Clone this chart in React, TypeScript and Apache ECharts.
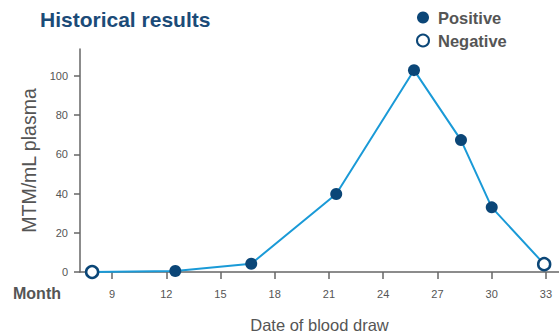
import React, { useEffect, useRef } from "react";
import * as echarts from "echarts";

const months = [7.9, 12.5, 16.7, 21.4, 25.7, 28.3, 30.0, 32.9];
const values = [0, 0.5, 4.2, 39.8, 103, 67.3, 33, 4];
const status = ["Negative", "Positive", "Positive", "Positive", "Positive", "Positive", "Positive", "Negative"];
const xTicks = [9, 12, 15, 18, 21, 24, 27, 30, 33];

const NAVY = "#0b4677";
const LINE = "#1a9ad7";
const GRAY = "#555555";
const AXIS = "#666666";
const FONT = "'Liberation Sans', Arial, Helvetica, sans-serif";

export default function App() {
  const ref = useRef<HTMLDivElement>(null);
  useEffect(() => {
    if (!ref.current) return;
    const chart = echarts.init(ref.current, undefined, { renderer: "svg" });
    const all = months.map((m, i) => [m, values[i]]);
    const pos = months.map((m, i) => (status[i] === "Positive" ? [m, values[i]] : null)).filter(Boolean);
    const neg = months.map((m, i) => (status[i] === "Negative" ? [m, values[i]] : null)).filter(Boolean);
    chart.setOption({
      animation: false,
      textStyle: { fontFamily: FONT },
      title: {
        text: "Historical results",
        left: 35,
        top: 4,
        textStyle: { fontSize: 21, fontWeight: "bold", color: "#1b4b78", fontFamily: FONT },
      },
      legend: {
        orient: "vertical",
        left: 411,
        top: 4,
        itemWidth: 12,
        itemHeight: 12,
        itemGap: 6,
        data: [
          { name: "Positive", icon: "circle" },
          { name: "Negative", icon: "circle" },
        ],
        textStyle: { fontSize: 16.5, fontWeight: "bold", color: GRAY, fontFamily: FONT, padding: [0, 0, 0, 4] },
      },
      graphic: [
        {
          type: "text",
          left: 13,
          top: 285,
          style: { text: "Month", fontSize: 16, fontWeight: "bold", fill: GRAY, fontFamily: FONT },
        },
      ],
      grid: { left: 80, right: 0, top: 49, bottom: 61, containLabel: false, outerBoundsMode: "none" },
      xAxis: {
        type: "value",
        min: 7.23,
        max: 33.72,
        name: "Date of blood draw",
        nameLocation: "middle",
        nameGap: 44,
        nameTextStyle: { fontSize: 16.5, color: GRAY, fontFamily: FONT },
        axisLine: { show: true, onZero: false, lineStyle: { color: AXIS, width: 1.5 } },
        axisTick: { show: true, length: 7, customValues: xTicks, lineStyle: { color: AXIS, width: 1.5 } },
        axisLabel: { customValues: xTicks, margin: 16, fontSize: 11, color: GRAY, fontFamily: FONT },
        splitLine: { show: false },
      },
      yAxis: {
        type: "value",
        min: 0,
        max: 113.8,
        interval: 20,
        name: "MTM/mL plasma",
        nameLocation: "middle",
        nameGap: 24,
        nameRotate: 90,
        nameTextStyle: { fontSize: 19.5, color: GRAY, fontFamily: FONT },
        axisLine: { show: true, lineStyle: { color: AXIS, width: 1.5 } },
        axisTick: { show: true, length: 6, lineStyle: { color: AXIS, width: 1.5 } },
        axisLabel: { margin: 12, fontSize: 11, color: GRAY, fontFamily: FONT, showMaxLabel: false },
        splitLine: { show: false },
      },
      series: [
        {
          type: "line",
          name: "trend",
          data: all,
          symbol: "none",
          lineStyle: { color: LINE, width: 2 },
          z: 2,
        },
        {
          type: "scatter",
          name: "Positive",
          data: pos,
          symbol: "circle",
          symbolSize: 12,
          itemStyle: { color: NAVY, opacity: 1 },
          z: 3,
        },
        {
          type: "scatter",
          name: "Negative",
          data: neg,
          symbol: "circle",
          symbolSize: 12,
          itemStyle: { color: "#ffffff", borderColor: NAVY, borderWidth: 2.5, opacity: 1 },
          z: 3,
        },
      ],
    });
    return () => chart.dispose();
  }, []);
  return <div ref={ref} style={{ width: 559, height: 333, position: "absolute", left: 0, top: 0 }} />;
}
